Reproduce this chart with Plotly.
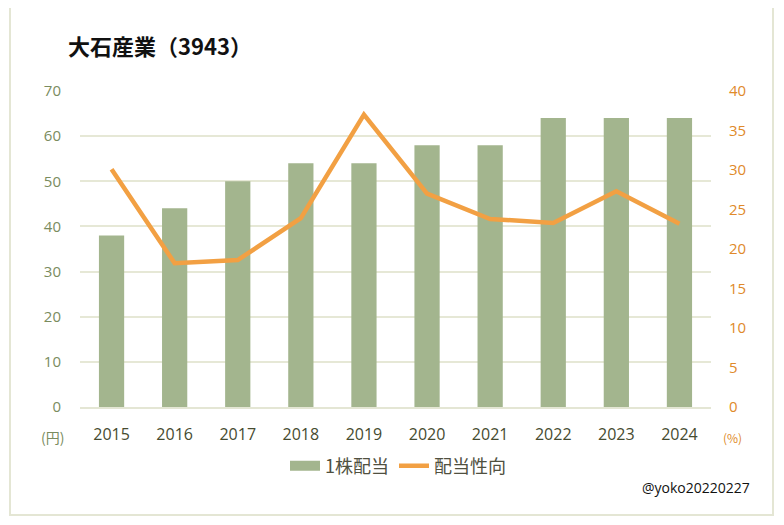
import plotly.graph_objects as go

years = ["2015", "2016", "2017", "2018", "2019", "2020", "2021", "2022", "2023", "2024"]
dividend = [38, 44, 50, 54, 54, 58, 58, 64, 64, 64]
payout = [30.1, 18.2, 18.6, 23.9, 37.0, 27.0, 23.8, 23.3, 27.3, 23.2]

OFF = 8  # page body margin
W, H = 784 - 2 * OFF, 525 - 2 * OFF
# target pixel positions in the window
PL, PR, PT, PB = 80, 711, 91, 407
ML, MR, MT, MB = PL - OFF, W - (PR - OFF), PT - OFF, H - (PB - OFF)
FONT = "Noto Sans CJK JP"
NUMFONT = "Open Sans"

pw = W - ML - MR
ph = H - MT - MB
def px_x(p): return (p - OFF - ML) / pw
def px_y(p): return (H - MB - (p - OFF)) / ph

fig = go.Figure()
fig.add_trace(go.Bar(
    x=years, y=dividend, name="1株配当", width=0.4, showlegend=False,
    marker=dict(color="#A3B58E", line=dict(width=0)),
))
fig.add_trace(go.Scatter(
    x=years, y=payout, name="配当性向", yaxis="y2", mode="lines", showlegend=False,
    line=dict(color="#F2A043", width=4.5),
))
# legend entries
fig.add_trace(go.Scatter(x=[None], y=[None], name="1株配当", mode="lines",
                         line=dict(color="#A3B58E", width=10)))
fig.add_trace(go.Scatter(x=[None], y=[None], name="配当性向", mode="lines", yaxis="y2",
                         line=dict(color="#F2A043", width=4.5)))

fig.update_layout(
    width=W, height=H,
    margin=dict(l=ML, r=MR, t=MT, b=MB),
    paper_bgcolor="white", plot_bgcolor="white",
    font=dict(family=FONT, size=15, color="#404030"),
    showlegend=True,
    legend=dict(orientation="h", x=px_x(398), xanchor="center", y=px_y(466), yanchor="middle",
                font=dict(size=18, color="#505040"), traceorder="normal"),
    title=dict(text="<b>大石産業（3943）</b>", x=(68 - OFF) / W, xanchor="left",
               y=1 - (47 - OFF) / H, yanchor="middle", font=dict(size=22, color="#111111")),
    xaxis=dict(showgrid=False, ticks="", tickfont=dict(family=NUMFONT, size=16, color="#464B30"),
               ticklabelstandoff=12, showline=True, linecolor="#E4E6D4", linewidth=2),
    yaxis=dict(range=[0, 70], dtick=10, showgrid=True, gridcolor="#E6E8D6", gridwidth=1.5,
               zeroline=False, tickfont=dict(family=NUMFONT, size=15, color="#7A8C5E"),
               ticklabelstandoff=18, ticks=""),
    yaxis2=dict(range=[0, 40], dtick=5, overlaying="y", side="right", showgrid=False,
                zeroline=False, tickfont=dict(family=NUMFONT, size=15, color="#E08A2A"),
                ticklabelstandoff=17, ticks=""),
)

fig.add_annotation(text="(円)", xref="paper", yref="paper", x=px_x(52), y=px_y(437),
                   xanchor="center", yanchor="middle",
                   showarrow=False, font=dict(size=14, color="#7A8C5E"))
fig.add_annotation(text="(%)", xref="paper", yref="paper", x=px_x(733), y=px_y(437),
                   xanchor="center", yanchor="middle",
                   showarrow=False, font=dict(size=12, color="#E08A2A"))
fig.add_annotation(text="@yoko20220227", xref="paper", yref="paper", x=px_x(752), y=px_y(487),
                   xanchor="right", yanchor="middle",
                   showarrow=False, font=dict(family=NUMFONT, size=14, color="#111111"))
fig.add_shape(type="rect", xref="paper", yref="paper",
              x0=px_x(10), x1=px_x(773), y0=px_y(515), y1=px_y(5),
              line=dict(color="#E4E6D4", width=2), fillcolor="rgba(0,0,0,0)", layer="below")

fig.write_html("out.html")
